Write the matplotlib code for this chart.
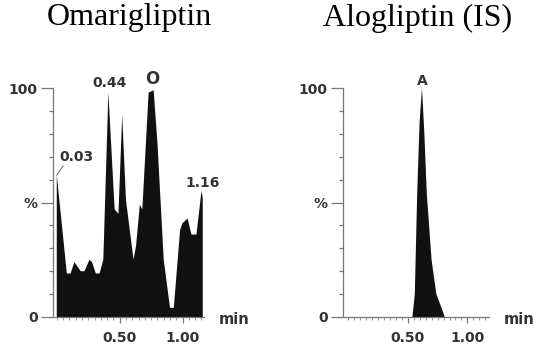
import numpy as np
import matplotlib
matplotlib.use("Agg")
import matplotlib.pyplot as plt
from matplotlib.ticker import MultipleLocator, FixedLocator, FixedFormatter

# Omarigliptin chromatogram (time in min, relative intensity %)
omar_time = [0.00, 0.00, 0.08, 0.11, 0.14, 0.19, 0.22, 0.26, 0.28, 0.31, 0.34, 0.37,
             0.41, 0.46, 0.49, 0.52, 0.55, 0.61, 0.63, 0.66, 0.68, 0.73, 0.77, 0.80,
             0.85, 0.90, 0.93, 0.98, 1.00, 1.04, 1.07, 1.11, 1.15, 1.16, 1.16]
omar_signal = [0, 62, 19, 19, 24, 20, 20, 25, 24, 19, 19, 25,
               98, 47, 45, 88, 51, 25, 31, 49, 47, 98, 99, 76,
               25, 4, 4, 38, 41, 43, 36, 36, 55, 52, 0]

# Alogliptin (IS) chromatogram
alog_time = [0.54, 0.56, 0.58, 0.60, 0.62, 0.64, 0.66, 0.70, 0.74, 0.79, 0.81]
alog_signal = [0, 10, 54, 85, 100, 80, 54, 25, 10, 3, 0]

titles = ["Omarigliptin", "Alogliptin (IS)"]
peak_labels_left = ["0.03", "0.44", "O", "1.16"]

ink = "#333333"
lab_font = dict(family="DejaVu Sans", fontweight="bold", color=ink)
fig = plt.figure(figsize=(5.5, 3.54), dpi=100)

def style_axis(ax, xmin, xmax):
    ax.set_xlim(xmin, xmax)
    ax.set_ylim(0, 100)
    for s in ["top", "right"]:
        ax.spines[s].set_visible(False)
    for s in ["left", "bottom"]:
        ax.spines[s].set_color("#777777")
        ax.spines[s].set_linewidth(0.9)
    ax.yaxis.set_major_locator(FixedLocator([0, 50, 100]))
    ax.yaxis.set_major_formatter(FixedFormatter(["0", "%", "100"]))
    ax.yaxis.set_minor_locator(MultipleLocator(10))
    ax.xaxis.set_major_locator(FixedLocator([0.5, 1.0]))
    ax.xaxis.set_major_formatter(FixedFormatter(["0.50", "1.00"]))
    ax.xaxis.set_minor_locator(MultipleLocator(0.05))
    ax.tick_params(axis="y", which="major", length=9, width=0.9, color="#777777",
                   labelsize=10, labelcolor=ink, pad=2)
    ax.tick_params(axis="y", which="minor", length=3, width=0.9, color="#777777")
    ax.tick_params(axis="x", which="major", length=4, width=0.9, color="#777777",
                   labelsize=10, labelcolor=ink, pad=6)
    ax.tick_params(axis="x", which="minor", length=2, width=0.8, color="#999999")
    for lab in ax.get_xticklabels() + ax.get_yticklabels():
        lab.set_fontweight("bold")
        lab.set_family("DejaVu Sans")
    ax.text(1.1, -0.01, "min", transform=ax.transAxes, fontsize=10.5,
            ha="left", va="center", **lab_font)

# Left panel
ax1 = fig.add_axes([53 / 550, 1 - 317 / 354, 151 / 550, 229 / 354])
ax1.fill(omar_time, omar_signal, color="#111111", lw=0)
style_axis(ax1, -0.03, 1.17)
ax1.plot([0.0, 0.05], [62, 66], color="#777777", lw=0.8)
ax1.text(0.02, 70, peak_labels_left[0], fontsize=10, ha="left", va="center", **lab_font)
ax1.text(0.42, 102, peak_labels_left[1], fontsize=10, ha="center", va="center", **lab_font)
ax1.text(0.755, 104, peak_labels_left[2], fontsize=12, ha="center", va="center", **lab_font)
ax1.text(1.16, 58.5, peak_labels_left[3], fontsize=10, ha="center", va="center", **lab_font)

# Right panel
ax2 = fig.add_axes([343 / 550, 1 - 317 / 354, 146 / 550, 229 / 354])
ax2.fill(alog_time, alog_signal, color="#111111", lw=0)
style_axis(ax2, -0.04, 1.18)
ax2.text(0.62, 103, "A", fontsize=10, ha="center", va="center", **lab_font)

fig.text(129 / 550, 1 - 18 / 354, titles[0], fontsize=23, family="Liberation Serif",
         ha="center", va="center", color="black")
fig.text(418 / 550, 1 - 18 / 354, titles[1], fontsize=23, family="Liberation Serif",
         ha="center", va="center", color="black")

fig.savefig("out.png", dpi=100)
